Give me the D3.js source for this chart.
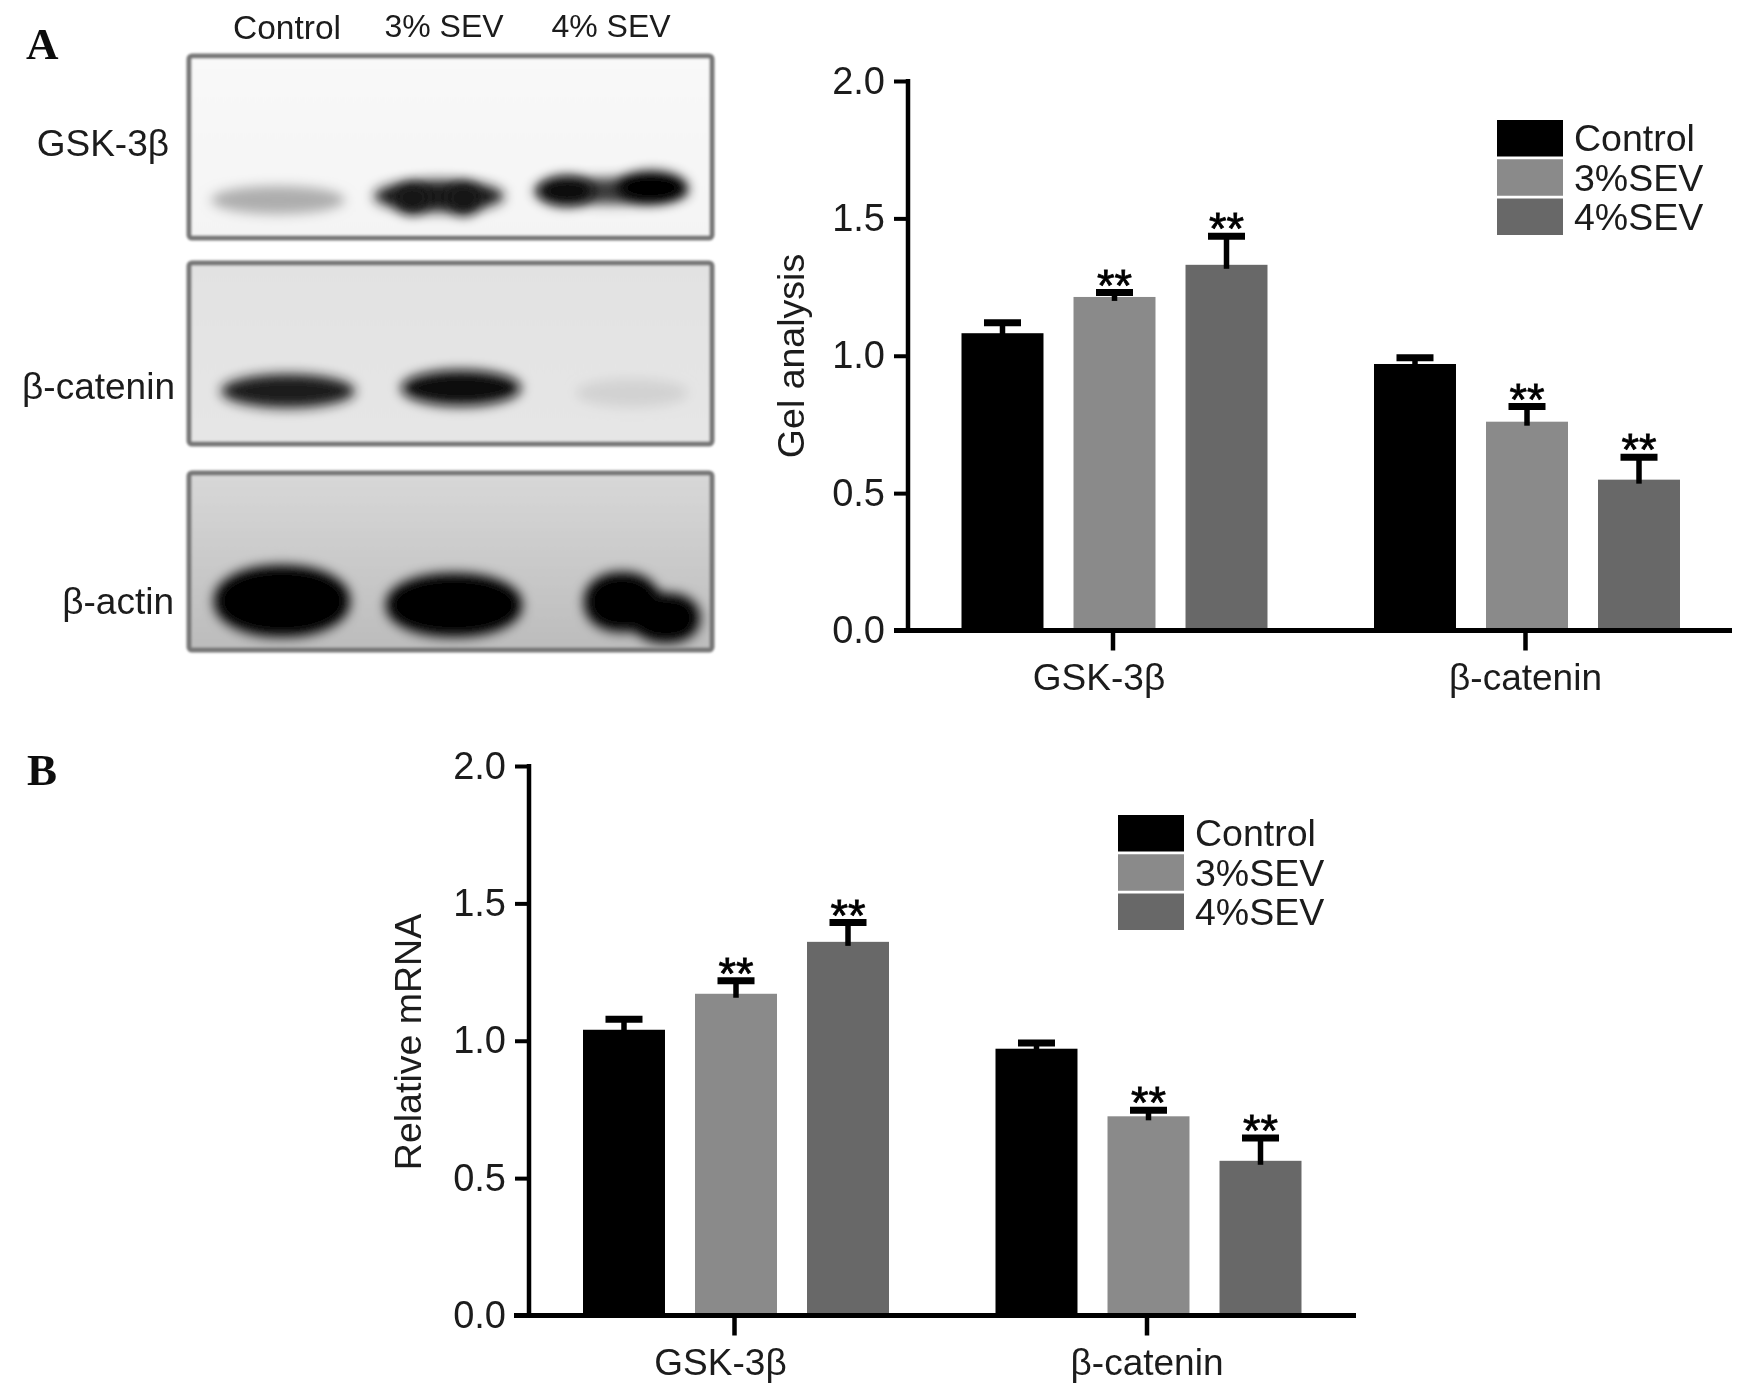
<!DOCTYPE html>
<html><head><meta charset="utf-8">
<script src="https://cdn.jsdelivr.net/npm/d3@7/dist/d3.min.js"></script>
<style>html,body{margin:0;padding:0;background:#fff}svg{display:block}text{font-family:"Liberation Sans",Arial,sans-serif;fill:#1a1a1a}</style>
</head><body><svg id="c" width="1747" height="1390"></svg>
<script>
const categories = ["GSK-3β", "β-catenin"];
const categoryLabelShift = [-14, 0];
const seriesNames = ["Control", "3%SEV", "4%SEV"];
const seriesColors = ["#000000", "#8a8a8a", "#686868"];
const yTicks = [0, 0.5, 1.0, 1.5, 2.0];

const gelMeans = [[1.082, 1.214, 1.331], [0.97, 0.76, 0.549]];
const gelErrorTops = [[1.12, 1.23, 1.435], [0.993, 0.815, 0.631]];
const gelStars = [[false, true, true], [false, true, true]];

const mrnaMeans = [[1.04, 1.171, 1.36], [0.971, 0.725, 0.563]];
const mrnaErrorTops = [[1.078, 1.218, 1.43], [0.992, 0.747, 0.646]];
const mrnaStars = [[false, true, true], [false, true, true]];

const laneLabels = ["Control", "3% SEV", "4% SEV"];
const blotLabels = ["GSK-3β", "β-catenin", "β-actin"];
// Blot bands: [lane centre, vertical centre, width, height, darkness colour] in blot-image pixels
const blotBandsGsk = [[278,200,122,22,"#adadad"],[439,196,118,26,"#1c1c1c"],[611,191,142,20,"#3a3a3a"],[566,191,44,24,"#0c0c0c"],[652,187,58,26,"#050505"],[412,199,22,24,"#181818"],[464,199,22,26,"#181818"]];
const blotBandsCat = [[288,391,122,28,"#1e1e1e"],[461,388,108,30,"#0e0e0e"],[632,393,100,22,"#d2d2d2"]];
const blotBandsActin = [[282,601,130,68,"#000"],[454,605,130,60,"#000"],[622,602,70,56,"#000"],[666,618,62,46,"#000"]];
const blotFrames = [[56,238,"#f9f9f9","#f4f4f4"],[263,444,"#e2e2e2","#e6e6e6"],[473,650,"#d8d8d8","#bcbcbc"]];

const svg = d3.select("#c");
const defs = svg.append("defs");
defs.append("filter").attr("id","soft").append("feGaussianBlur").attr("stdDeviation",0.7);
defs.append("filter").attr("id","soft2").attr("x","-2%").attr("y","-2%").attr("width","104%").attr("height","104%").append("feGaussianBlur").attr("stdDeviation",1.3);
defs.append("filter").attr("id","band").attr("x","-30%").attr("y","-80%").attr("width","160%").attr("height","260%").append("feGaussianBlur").attr("stdDeviation",6);
const frameGrads = blotFrames.map((f,i)=>{
  const g = defs.append("linearGradient").attr("id","fg"+i).attr("x1",0).attr("x2",0).attr("y1",0).attr("y2",1);
  g.append("stop").attr("offset",0).attr("stop-color",f[2]);
  g.append("stop").attr("offset",1).attr("stop-color",f[3]);
  return "url(#fg"+i+")";
});
const root = svg.append("g").attr("filter","url(#soft)");

// Panel letters
root.selectAll("text.panel").data([["A",26,59],["B",27,785]]).join("text").attr("class","panel")
  .attr("x",d=>d[1]).attr("y",d=>d[2]).text(d=>d[0])
  .style("font-family","'Liberation Serif',serif").style("font-weight","700").style("font-size","45px").style("fill","#111");

// Western blots
const blot = root.append("g").attr("filter","url(#soft2)");
blotFrames.forEach((f,i)=>{
  blot.append("rect").attr("x",189).attr("y",f[0]).attr("width",523).attr("height",f[1]-f[0]).attr("rx",3)
    .attr("fill",frameGrads[i]).attr("stroke","#777").attr("stroke-width",5);
});
const clipBlot = defs.append("clipPath").attr("id","bc");
blotFrames.forEach(f=>clipBlot.append("rect").attr("x",192).attr("y",f[0]+3).attr("width",517).attr("height",f[1]-f[0]-6));
const bandsG = blot.append("g").attr("clip-path","url(#bc)");
[...blotBandsGsk,...blotBandsCat].forEach(b=>{
  bandsG.append("ellipse").attr("cx",b[0]).attr("cy",b[1]).attr("rx",b[2]/2+6).attr("ry",b[3]/2+3).attr("fill",b[4]).attr("filter","url(#band)");
});
blotBandsActin.forEach(b=>{
  bandsG.append("rect").attr("x",b[0]-b[2]/2-3).attr("y",b[1]-b[3]/2-2).attr("width",b[2]+6).attr("height",b[3]+4).attr("rx",b[2]/2).attr("ry",b[3]/2).attr("fill",b[4]).attr("filter","url(#band)");
});
[[287,39,33.5],[444,37,32],[611,37,32]].forEach((p,i)=>{
  root.append("text").attr("x",p[0]).attr("y",p[1]).attr("text-anchor","middle").style("font-size",p[2]+"px").text(laneLabels[i]);
});
[[169,156],[175,399],[174,614]].forEach((p,i)=>{
  root.append("text").attr("x",p[0]).attr("y",p[1]).attr("text-anchor","end").style("font-size","37px").text(blotLabels[i]);
});

function chart(o){
  const g = root.append("g");
  const y = d3.scaleLinear().domain([0,2]).range([o.y0,o.y2]);
  const x = d3.scalePoint().domain(categories).range(o.groupX);
  const inner = d3.scaleBand().domain(seriesNames).range([-153,153]).paddingInner(0.268);
  const off = inner.bandwidth()/2;
  categories.forEach((c,ci)=>{
    seriesNames.forEach((s,si)=>{
      const bx = x(c)+2+inner(s), cx = bx+off;
      const top = y(o.means[ci][si]), et = y(o.errs[ci][si]);
      g.append("rect").attr("x",bx).attr("y",top).attr("width",inner.bandwidth()).attr("height",o.y0-top).attr("fill",seriesColors[si]);
      g.append("line").attr("x1",cx).attr("x2",cx).attr("y1",top+4).attr("y2",et).attr("stroke","#000").attr("stroke-width",5.5);
      g.append("line").attr("x1",cx-18.5).attr("x2",cx+18.5).attr("y1",et).attr("y2",et).attr("stroke","#000").attr("stroke-width",7);
      if(o.stars[ci][si]) g.append("text").attr("x",cx).attr("y",et+8).attr("text-anchor","middle").style("font-size","45px").style("fill","#000").style("stroke","#000").style("stroke-width","0.8").text("**");
    });
  });
  const ax = g.append("g").attr("transform",`translate(${o.axisX},0)`)
    .call(d3.axisLeft(y).tickValues(yTicks).tickFormat(d3.format(".1f")).tickSize(14).tickPadding(9));
  ax.select(".domain").attr("d",`M0,${o.y2-2}V${o.y0+2}`).attr("stroke","#000").attr("stroke-width",4.5);
  ax.selectAll(".tick line").attr("stroke","#000").attr("stroke-width",4);
  ax.selectAll(".tick text").style("font-size","38px").style("font-family","'Liberation Sans',sans-serif").style("fill","#1a1a1a");
  const bx = g.append("g").attr("transform",`translate(0,${o.y0})`)
    .call(d3.axisBottom(x).tickSize(20).tickPadding(13));
  bx.select(".domain").attr("d",`M${o.xAxis[0]},0H${o.xAxis[1]}`).attr("stroke","#000").attr("stroke-width",5);
  bx.selectAll(".tick line").attr("stroke","#000").attr("stroke-width",4.5);
  bx.selectAll(".tick text").style("font-size","37px").style("font-family","'Liberation Sans',sans-serif").style("fill","#1a1a1a").attr("dx",(d,i)=>categoryLabelShift[i]);
  g.append("text").attr("transform",`translate(${o.labelX},${o.labelY}) rotate(-90)`).attr("text-anchor","middle").style("font-size","37.5px").text(o.label);
  const ly = d3.scaleBand().domain(seriesNames).range(o.legendY).paddingInner(0.07);
  seriesNames.forEach((s,i)=>{
    g.append("rect").attr("x",o.legendX).attr("y",ly(s)).attr("width",66).attr("height",ly.bandwidth()).attr("fill",seriesColors[i]);
    g.append("text").attr("x",o.legendX+77).attr("y",ly(s)+ly.bandwidth()/2+13).style("font-size","37.5px").text(s);
  });
}
chart({y0:630.5,y2:81,axisX:908,groupX:[1112.5,1525],xAxis:[894,1732],means:gelMeans,errs:gelErrorTops,stars:gelStars,label:"Gel analysis",labelX:804,labelY:356,legendX:1497,legendY:[120,235]});
chart({y0:1315.5,y2:766,axisX:529,groupX:[734,1146.5],xAxis:[514,1356],means:mrnaMeans,errs:mrnaErrorTops,stars:mrnaStars,label:"Relative mRNA",labelX:421,labelY:1042,legendX:1118,legendY:[815,930]});
</script></body></html>
